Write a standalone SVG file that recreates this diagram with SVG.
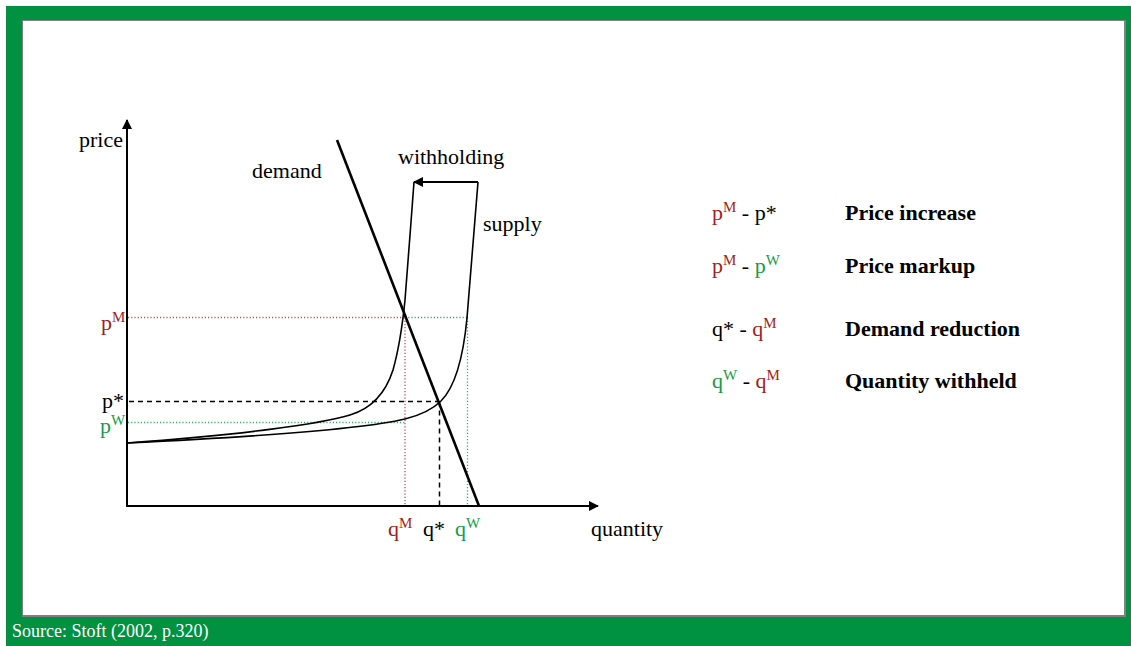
<svg xmlns="http://www.w3.org/2000/svg" width="1131" height="646" viewBox="0 0 1131 646">
<defs>
<style>
text{font-family:"Liberation Serif","Times New Roman",serif;font-size:22px;fill:#000}
.red{fill:#a51c1c}
.grn{fill:#179a4a}
.b{font-weight:bold}
.sup{font-size:15px}
.ax{stroke:#000;stroke-width:2;fill:none}
.crv{stroke:#000;stroke-width:1.6;fill:none}
.dr{stroke:#c0504d;stroke-width:1.3;stroke-dasharray:1.2 2;fill:none}
.dg{stroke:#3aa86a;stroke-width:1.3;stroke-dasharray:1.2 2;fill:none}
.dk{stroke:#000;stroke-width:1.5;stroke-dasharray:5 4;fill:none}
</style>
<marker id="ahb" viewBox="0 0 10 10" refX="9" refY="5" markerWidth="12" markerHeight="10" markerUnits="userSpaceOnUse" orient="auto">
<path d="M0,0 L10,5 L0,10 z" fill="#000"/>
</marker>
</defs>
<g id="frame">
<rect x="6" y="6" width="1125" height="640" fill="#009240"/>
<rect x="22" y="20" width="1104" height="597" fill="#808080"/>
<rect x="23" y="21" width="1101" height="594" fill="#fff"/>
<text x="12" y="637" style="font-size:18px;fill:#fff">Source: Stoft (2002, p.320)</text>
</g>
<g id="guides">
<line class="dr" x1="128" y1="317.5" x2="405" y2="317.5"/>
<line class="dg" x1="405" y1="317.5" x2="467" y2="317.5"/>
<line class="dr" x1="405" y1="317.5" x2="405" y2="505"/>
<line class="dg" x1="467.5" y1="317.5" x2="467.5" y2="505"/>
<line class="dg" x1="128" y1="422.5" x2="405" y2="422.5"/>
<line class="dk" x1="129" y1="401.5" x2="439" y2="401.5"/>
<line class="dk" x1="439.5" y1="401.5" x2="439.5" y2="505"/>
</g>
<g id="axes">
<line class="ax" x1="127" y1="506" x2="127" y2="120" marker-end="url(#ahb)"/>
<line class="ax" x1="126" y1="506" x2="598" y2="506" marker-end="url(#ahb)"/>
</g>
<g id="connectors">
<path id="supply-curve" class="crv" d="M127,443 C250,437 360,430 405,419 C425,414 436,406 441,401 C455,387 463,360 467,318 C470,285 474,230 478,182"/>
<path id="withheld-curve" class="crv" d="M127,443 C240,435 320,424 350,415 C370,409 385,395 393,370 C400,345 403,320 405,300 C408,265 411,220 414,182"/>
<line id="demand-line" x1="337" y1="140" x2="479" y2="506" stroke="#000" stroke-width="2.6"/>
<line id="withhold-arrow" x1="478" y1="182" x2="414" y2="182" stroke="#000" stroke-width="2" marker-end="url(#ahb)"/>
</g>
<g id="labels">
<text x="79" y="147">price</text>
<text x="252" y="178">demand</text>
<text x="398" y="164">withholding</text>
<text x="483" y="231">supply</text>
<text x="591" y="536">quantity</text>
<text x="101" y="330" class="red">p<tspan class="sup" dy="-8">M</tspan></text>
<text x="102" y="408">p*</text>
<text x="100" y="433" class="grn">p<tspan class="sup" dy="-8">W</tspan></text>
<text x="388" y="536" class="red">q<tspan class="sup" dy="-8">M</tspan></text>
<text x="423" y="536">q*</text>
<text x="455" y="536" class="grn">q<tspan class="sup" dy="-8">W</tspan></text>
</g>
<g id="legend">
<text x="712" y="220"><tspan class="red">p</tspan><tspan class="sup red" dy="-8">M</tspan><tspan dy="8"> - p*</tspan></text>
<text x="845" y="220" class="b">Price increase</text>
<text x="712" y="273"><tspan class="red">p</tspan><tspan class="sup red" dy="-8">M</tspan><tspan dy="8"> - </tspan><tspan class="grn">p</tspan><tspan class="sup grn" dy="-8">W</tspan></text>
<text x="845" y="273" class="b">Price markup</text>
<text x="712" y="336">q* - <tspan class="red">q</tspan><tspan class="sup red" dy="-8">M</tspan></text>
<text x="845" y="336" class="b">Demand reduction</text>
<text x="712" y="388"><tspan class="grn">q</tspan><tspan class="sup grn" dy="-8">W</tspan><tspan dy="8"> - </tspan><tspan class="red">q</tspan><tspan class="sup red" dy="-8">M</tspan></text>
<text x="845" y="388" class="b">Quantity withheld</text>
</g>
</svg>
